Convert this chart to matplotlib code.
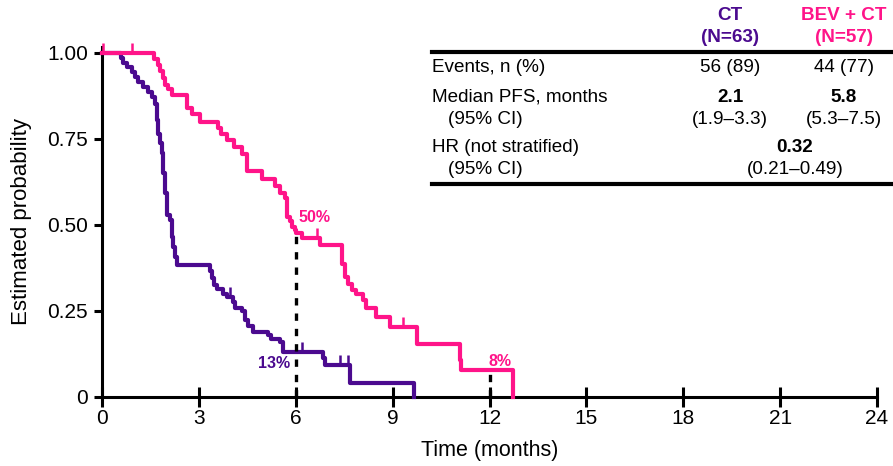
import matplotlib
matplotlib.use("Agg")
import matplotlib.pyplot as plt
import numpy as np
from matplotlib.markers import TICKUP
from matplotlib.lines import Line2D

plt.rcParams['font.family'] = ['Liberation Sans', 'DejaVu Sans']

# ---------------- data ----------------
ct_time = [0, 0.58, 0.66, 0.76, 0.92, 1.02, 1.12, 1.28, 1.43, 1.54, 1.64, 1.69, 1.74,
           1.80, 1.85, 1.90, 1.95, 2.00, 2.10, 2.16, 2.21, 2.26, 2.31, 3.34, 3.42,
           3.48, 3.55, 3.76, 3.86, 4.05, 4.12, 4.33, 4.43, 4.53, 4.68, 5.15, 5.22,
           5.51, 5.61, 6.85, 6.90, 7.68, 9.66]
ct_surv = [1.0, 0.984, 0.969, 0.957, 0.943, 0.928, 0.914, 0.900, 0.885, 0.871, 0.852, 0.803, 0.765,
           0.736, 0.707, 0.649, 0.591, 0.528, 0.513, 0.464, 0.435, 0.406, 0.383, 0.365, 0.345,
           0.325, 0.315, 0.300, 0.290, 0.275, 0.258, 0.250, 0.225, 0.205, 0.190, 0.180, 0.168,
           0.160, 0.130, 0.112, 0.093, 0.041, 0.0]
ct_censor = [3.96, 6.18, 7.37, 7.63]

bev_time = [0, 1.62, 1.72, 1.79, 1.88, 1.95, 2.05, 2.18, 2.62, 2.78, 3.02, 3.58, 3.70,
            3.88, 4.10, 4.35, 4.48, 4.96, 5.35, 5.51, 5.67, 5.72, 5.82, 5.88, 5.98,
            6.02, 6.18, 6.75, 7.42, 7.52, 7.62, 7.73, 7.88, 8.08, 8.19, 8.50, 8.92,
            9.74, 11.08, 11.13, 12.74]
bev_surv = [1.0, 0.982, 0.965, 0.947, 0.925, 0.905, 0.895, 0.877, 0.838, 0.822, 0.798, 0.782, 0.765,
            0.745, 0.726, 0.706, 0.655, 0.632, 0.612, 0.592, 0.577, 0.522, 0.511, 0.494, 0.485,
            0.475, 0.462, 0.440, 0.387, 0.349, 0.329, 0.310, 0.300, 0.281, 0.257, 0.233, 0.204,
            0.155, 0.107, 0.078, 0.0]
bev_censor = [0.04, 0.92, 6.66, 9.32]

x_ticks = [0, 3, 6, 9, 12, 15, 18, 21, 24]
y_ticks = [0, 0.25, 0.50, 0.75, 1.00]
y_ticklabels = ['0', '0.25', '0.50', '0.75', '1.00']
landmarks = [6, 12]

table_rows = ['Events, n (%)', 'Median PFS, months', '(95% CI)', 'HR (not stratified)', '(95% CI)']
ct_col = ['56 (89)', '2.1', '(1.9–3.3)']
bev_col = ['44 (77)', '5.8', '(5.3–7.5)']
hr_col = ['0.32', '(0.21–0.49)']

CT_C = '#4b0a8f'
BEV_C = '#ff1489'

W, H = 893, 466
fig = plt.figure(figsize=(W / 100, H / 100), dpi=100)
ax = fig.add_axes([102 / W, 1 - 397 / H, 775 / W, 350.3 / H])
ax.set_xlim(0, 24)
ax.set_ylim(0, 1.017)


def surv_at(times, surv, t):
    idx = np.searchsorted(times, t, side='right') - 1
    return np.asarray(surv)[idx]


for tt, ss, cc, cens in [(ct_time, ct_surv, CT_C, ct_censor), (bev_time, bev_surv, BEV_C, bev_censor)]:
    ax.step(tt, ss, where='post', color=cc, lw=3.0, clip_on=False, zorder=3)
    ax.plot(cens, surv_at(tt, ss, cens), ls='none', marker=TICKUP, ms=7,
            mew=1.8, color=cc, clip_on=False, zorder=3)

# landmark dashed lines (to BEV+CT curve)
for lm in landmarks:
    s = surv_at(bev_time, bev_surv, lm)
    ax.plot([lm, lm], [0, s], color='black', lw=2.4, ls=(0, (2.2, 2.4)), zorder=4)

ax.text(6.07, 0.52, '50%', color=BEV_C, fontsize=11.5, fontweight='bold', va='center', ha='left')
ax.text(5.82, 0.096, '13%', color=CT_C, fontsize=11.5, fontweight='bold', va='center', ha='right')
ax.text(12.32, 0.104, '8%', color=BEV_C, fontsize=11.5, fontweight='bold', va='center', ha='center')

for side in ['top', 'right']:
    ax.spines[side].set_visible(False)
for side in ['left', 'bottom']:
    ax.spines[side].set_linewidth(2.2)

ax.set_xticks(x_ticks)
ax.set_yticks(y_ticks)
ax.set_yticklabels(y_ticklabels)
ax.tick_params(axis='x', direction='inout', length=14, width=2.2, labelsize=15, pad=2)
ax.tick_params(axis='y', direction='out', length=6, width=2.2, labelsize=15, pad=4)

ax.set_xlabel('Time (months)', fontsize=15.5)
ax.xaxis.set_label_coords(0.5, -0.122)
ax.set_ylabel('Estimated probability', fontsize=16)
ax.yaxis.set_label_coords(-0.09, 0.5)


# ---------------- table ----------------
def ft(x, y, s, **kw):
    fig.text(x / W, 1 - y / H, s, va='center', **kw)


FS = 13.6
ft(730, 15, 'CT', ha='center', color=CT_C, fontsize=FS, fontweight='bold')
ft(730, 38, '(N=63)', ha='center', color=CT_C, fontsize=FS, fontweight='bold')
ft(844, 15, 'BEV + CT', ha='center', color=BEV_C, fontsize=FS, fontweight='bold')
ft(844, 38, '(N=57)', ha='center', color=BEV_C, fontsize=FS, fontweight='bold')

row_y = [67, 97, 120, 148, 170]
row_x = [432, 432, 448, 432, 448]
for s, x, y in zip(table_rows, row_x, row_y):
    ft(x, y, s, ha='left', fontsize=FS)

for i, (a, b) in enumerate(zip(ct_col, bev_col)):
    w = 'bold' if i == 1 else 'normal'
    ft(730, row_y[i], a, ha='center', fontsize=FS, fontweight=w)
    ft(844, row_y[i], b, ha='center', fontsize=FS, fontweight=w)
ft(795, row_y[3], hr_col[0], ha='center', fontsize=FS, fontweight='bold')
ft(795, row_y[4], hr_col[1], ha='center', fontsize=FS)

for yy in [52, 184]:
    fig.add_artist(Line2D([432 / W, 1.0], [1 - yy / H, 1 - yy / H], color='black', lw=3.0,
                          transform=fig.transFigure))

fig.savefig('out.png', dpi=100)
